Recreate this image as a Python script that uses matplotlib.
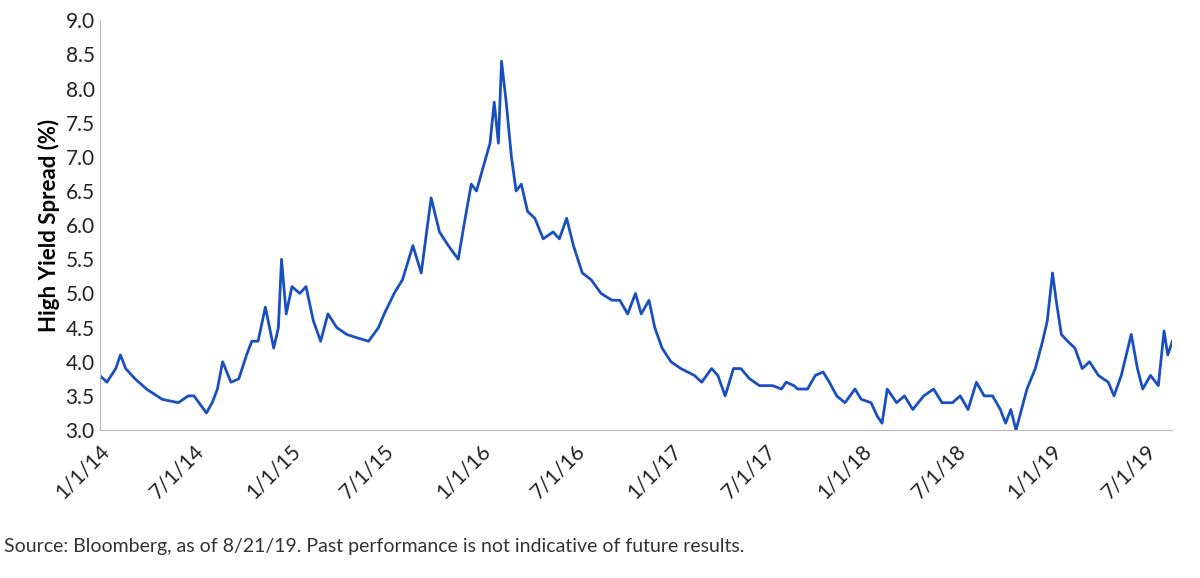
import matplotlib
matplotlib.use("Agg")
import matplotlib.pyplot as plt
import pandas as pd

plt.rcParams['font.family'] = ['Lato', 'DejaVu Sans']

# values
dates = ["2014-01-01", "2014-01-15", "2014-02-01", "2014-02-10", "2014-02-20", "2014-03-10",
         "2014-04-01", "2014-05-01", "2014-06-01", "2014-06-20", "2014-07-01", "2014-07-25",
         "2014-08-05", "2014-08-15", "2014-08-25", "2014-09-10", "2014-09-25", "2014-10-10",
         "2014-10-20", "2014-11-01", "2014-11-15", "2014-12-01", "2014-12-10", "2014-12-16",
         "2014-12-25", "2015-01-05", "2015-01-20", "2015-02-01", "2015-02-15", "2015-03-01",
         "2015-03-15", "2015-04-01", "2015-04-20", "2015-05-10", "2015-06-01", "2015-06-20",
         "2015-07-01", "2015-07-20", "2015-08-05", "2015-08-25", "2015-09-10", "2015-09-29",
         "2015-10-15", "2015-11-01", "2015-11-20", "2015-12-01", "2015-12-15", "2015-12-25",
         "2016-01-05", "2016-01-20", "2016-01-28", "2016-02-05", "2016-02-11", "2016-02-20",
         "2016-03-01", "2016-03-10", "2016-03-20", "2016-04-01", "2016-04-15", "2016-05-01",
         "2016-05-20", "2016-06-01", "2016-06-15", "2016-06-28", "2016-07-15", "2016-08-01",
         "2016-08-20", "2016-09-10", "2016-09-25", "2016-10-10", "2016-10-25", "2016-11-05",
         "2016-11-20", "2016-12-01", "2016-12-15", "2017-01-01", "2017-01-20", "2017-02-15",
         "2017-03-01", "2017-03-20", "2017-04-01", "2017-04-15", "2017-05-01", "2017-05-15",
         "2017-06-01", "2017-06-20", "2017-07-15", "2017-08-01", "2017-08-10", "2017-08-25",
         "2017-09-01", "2017-09-20", "2017-10-05", "2017-10-20", "2017-11-01", "2017-11-15",
         "2017-12-01", "2017-12-20", "2018-01-01", "2018-01-20", "2018-02-01", "2018-02-10",
         "2018-02-20", "2018-03-10", "2018-03-25", "2018-04-10", "2018-05-01", "2018-05-20",
         "2018-06-05", "2018-06-25", "2018-07-10", "2018-07-25", "2018-08-10", "2018-08-25",
         "2018-09-10", "2018-09-25", "2018-10-05", "2018-10-15", "2018-10-25", "2018-11-01",
         "2018-11-15", "2018-12-01", "2018-12-15", "2018-12-24", "2019-01-03", "2019-01-10",
         "2019-01-20", "2019-02-01", "2019-02-15", "2019-03-01", "2019-03-15", "2019-04-01",
         "2019-04-20", "2019-05-01", "2019-05-15", "2019-06-03", "2019-06-15", "2019-06-25",
         "2019-07-10", "2019-07-25", "2019-08-05", "2019-08-12", "2019-08-21"]
spread = [3.8, 3.7, 3.9, 4.1, 3.9, 3.75, 3.6, 3.45, 3.4, 3.5, 3.5, 3.25,
          3.4, 3.6, 4.0, 3.7, 3.75, 4.1, 4.3, 4.3, 4.8, 4.2, 4.5, 5.5,
          4.7, 5.1, 5.0, 5.1, 4.6, 4.3, 4.7, 4.5, 4.4, 4.35, 4.3, 4.5,
          4.7, 5.0, 5.2, 5.7, 5.3, 6.4, 5.9, 5.7, 5.5, 6.0, 6.6, 6.5,
          6.8, 7.2, 7.8, 7.2, 8.4, 7.8, 7.0, 6.5, 6.6, 6.2, 6.1, 5.8,
          5.9, 5.8, 6.1, 5.7, 5.3, 5.2, 5.0, 4.9, 4.9, 4.7, 5.0, 4.7,
          4.9, 4.5, 4.2, 4.0, 3.9, 3.8, 3.7, 3.9, 3.8, 3.5, 3.9, 3.9,
          3.75, 3.65, 3.65, 3.6, 3.7, 3.65, 3.6, 3.6, 3.8, 3.85, 3.7, 3.5,
          3.4, 3.6, 3.45, 3.4, 3.2, 3.1, 3.6, 3.4, 3.5, 3.3, 3.5, 3.6,
          3.4, 3.4, 3.5, 3.3, 3.7, 3.5, 3.5, 3.3, 3.1, 3.3, 3.0, 3.2,
          3.6, 3.9, 4.3, 4.6, 5.3, 4.9, 4.4, 4.3, 4.2, 3.9, 4.0, 3.8,
          3.7, 3.5, 3.8, 4.4, 3.9, 3.6, 3.8, 3.65, 4.45, 4.1, 4.3]
tick_dates = ["2014-01-01", "2014-07-01", "2015-01-01", "2015-07-01", "2016-01-01", "2016-07-01",
              "2017-01-01", "2017-07-01", "2018-01-01", "2018-07-01", "2019-01-01", "2019-07-01"]
tick_labels = ["1/1/14", "7/1/14", "1/1/15", "7/1/15", "1/1/16", "7/1/16",
               "1/1/17", "7/1/17", "1/1/18", "7/1/18", "1/1/19", "7/1/19"]

x = pd.to_datetime(dates)

fig = plt.figure(figsize=(12, 5.78), dpi=100)
ax = fig.add_axes([0.083, 0.256, 0.894, 0.709])
ax.plot(x, spread, color='#1a4fc0', linewidth=2)

ax.set_ylim(3.0, 9.0)
ax.set_yticks([3.0 + 0.5 * i for i in range(13)])
ax.yaxis.set_major_formatter(plt.FormatStrFormatter('%.1f'))
ax.set_xlim(x[0], x[-1])
ax.set_xticks(pd.to_datetime(tick_dates))
ax.set_xticklabels(tick_labels, rotation=45, ha='right', rotation_mode='anchor')
ax.tick_params(axis='both', labelsize=15, length=0, colors='#222222')
ax.tick_params(axis='x', pad=8)
ax.set_ylabel('High Yield Spread (%)', fontsize=16, fontweight='bold')

for s in ['top', 'right']:
    ax.spines[s].set_visible(False)
for s in ['left', 'bottom']:
    ax.spines[s].set_color('#bbbbbb')

fig.text(0.003, 0.045, 'Source: Bloomberg, as of 8/21/19. Past performance is not indicative of future results.',
         fontsize=14, color='#333333')

fig.savefig('out.png', dpi=100)
